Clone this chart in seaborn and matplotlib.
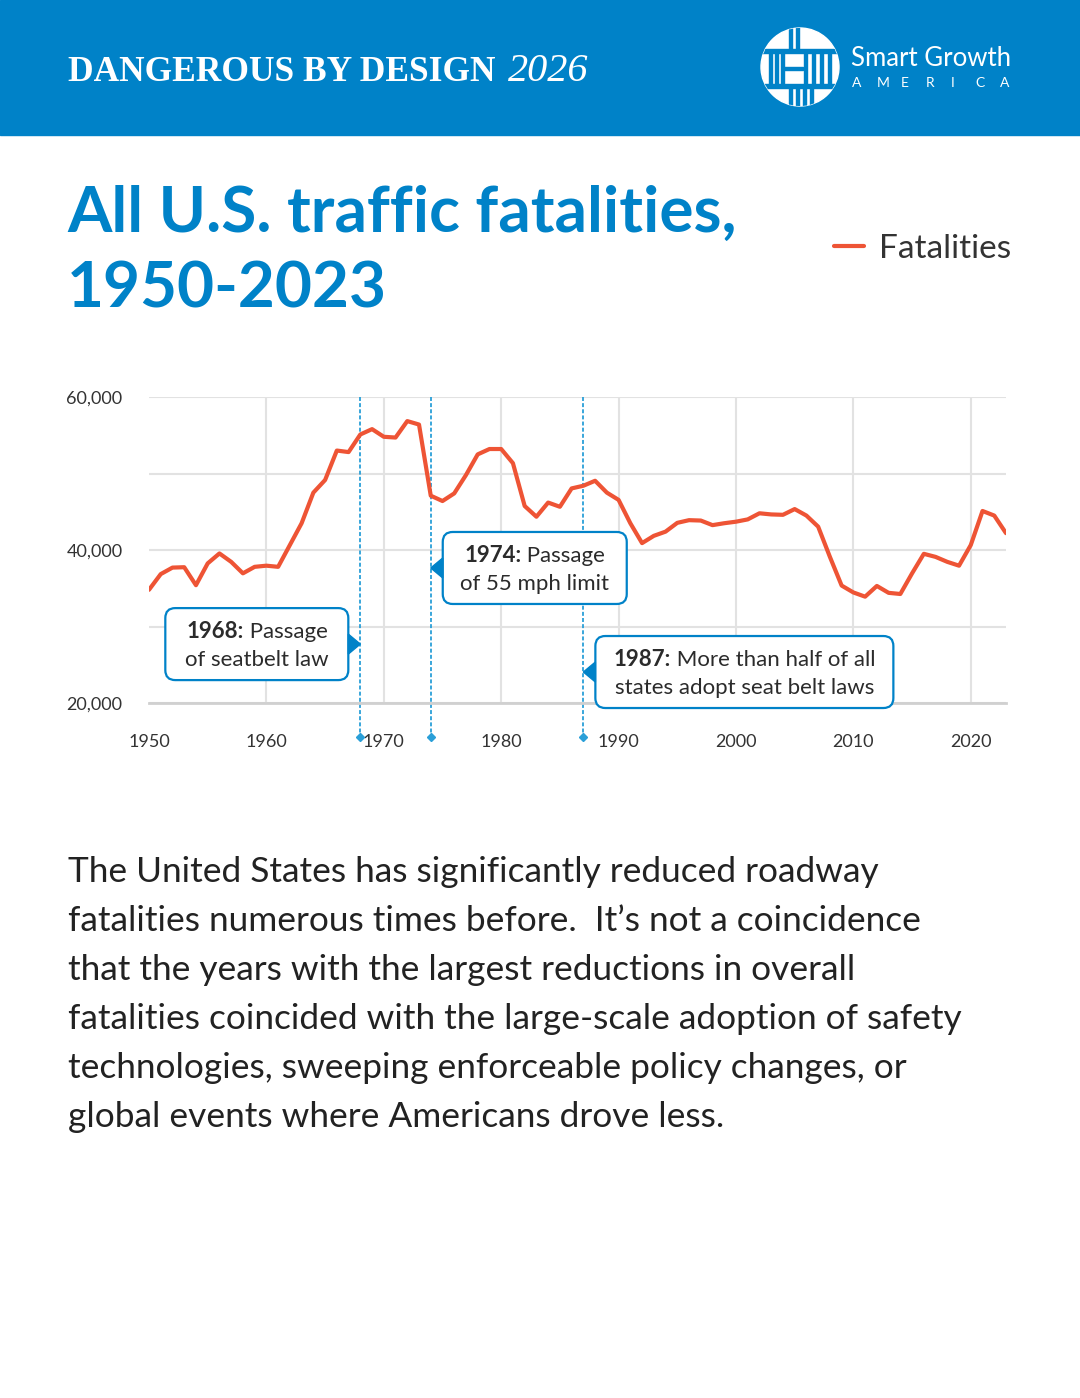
import matplotlib.pyplot as plt
import seaborn as sns
import pandas as pd
from matplotlib.patches import FancyBboxPatch, Rectangle, Circle, Polygon

# Data
years = list(range(1950, 2024))
fatalities = [
    34800, 36850, 37700, 37750, 35400, 38250, 39550, 38450, 36950, 37800,  # 1950s
    37950, 37800, 40650, 43500, 47500, 49150, 53000, 52800, 55100, 55800,  # 1960s
    54800, 54700, 56850, 56400, 47100, 46400, 47400, 49800, 52500, 53200,  # 1970s
    53200, 51350, 45750, 44350, 46200, 45650, 48050, 48400, 49050, 47500,  # 1980s
    46550, 43500, 40900, 41850, 42400, 43550, 43900, 43850, 43250, 43500,  # 1990s
    43700, 44000, 44800, 44650, 44600, 45350, 44500, 43050, 39100, 35350,  # 2000s
    34450, 33900, 35300, 34400, 34250, 36950, 39500, 39100, 38450, 37950,  # 2010s
    40650, 45100, 44500, 42200,                                            # 2020s
]

x_ticks = [1950, 1960, 1970, 1980, 1990, 2000, 2010, 2020]
x_tick_labels = [str(t) for t in x_ticks]
y_ticks = [20000, 30000, 40000, 50000, 60000]
y_tick_labels = ["20,000", "", "40,000", "", "60,000"]

# Event call-outs
event_years = [1968, 1974, 1987]
event_bold = ["1968:", "1974:", "1987:"]
event_line1 = [" Passage", " Passage", " More than half of all"]
event_line2 = ["of seatbelt law", "of 55 mph limit", "states adopt seat belt laws"]
event_anchor = [27700, 37650, 24050]   # value where the pointer touches the line
event_side = ["left", "right", "right"]
event_box_w = [183, 184, 298]

title_lines = ["All U.S. traffic fatalities,", "1950-2023"]
body_lines = [
    "The United States has significantly reduced roadway",
    "fatalities numerous times before.  It\u2019s not a coincidence",
    "that the years with the largest reductions in overall",
    "fatalities coincided with the large-scale adoption of safety",
    "technologies, sweeping enforceable policy changes, or",
    "global events where Americans drove less.",
]

W, H = 1080, 1398
BLUE = "#0082C8"
RED = "#EE5435"
DASH = "#2A9FD8"
TEXT = "#2b2b2b"

sns.set_theme(style="white")
plt.rcParams["font.family"] = ["Lato", "DejaVu Sans"]

fig = plt.figure(figsize=(W / 100, H / 100), dpi=100)
fig.patch.set_facecolor("white")

df = pd.DataFrame({"year": years, "fatalities": fatalities})

# Main chart
ax = fig.add_axes([149 / W, 1 - 703 / H, 857 / W, 306 / H])
sns.lineplot(data=df, x="year", y="fatalities", ax=ax, color=RED,
             linewidth=3, legend=False, zorder=3)
ax.set_xlim(1950, 2023)
ax.set_ylim(20000, 60000)
ax.set_xticks(x_ticks)
ax.set_xticklabels(x_tick_labels)
ax.set_yticks(y_ticks)
ax.set_yticklabels(y_tick_labels)
ax.set_xlabel("")
ax.set_ylabel("")
ax.grid(True, color="#e2e2e2", linewidth=1.5)
ax.get_xgridlines()[0].set_visible(False)
for s in ["top", "right", "left"]:
    ax.spines[s].set_visible(False)
ax.spines["bottom"].set_color("#d0d0d0")
ax.spines["bottom"].set_linewidth(2)
ax.tick_params(axis="both", length=0, labelsize=13, labelcolor="#333333")
ax.tick_params(axis="y", pad=19)
ax.tick_params(axis="x", pad=22)

ax.legend([ax.lines[0]], ["Fatalities"], loc="center right",
          bbox_to_anchor=(1011 / W, 1 - 249 / H), bbox_transform=fig.transFigure,
          frameon=False, fontsize=24, handlelength=0.9, handletextpad=0.45,
          borderpad=0, borderaxespad=0, labelcolor="#333333")

# dashed event markers, running below the axis
drop = 34 / 306
xt = ax.get_xaxis_transform()
for yr in event_years:
    ax.plot([yr, yr], [1, -drop], transform=xt, color=DASH, lw=1.3,
            ls=(0, (2.2, 1.2)), clip_on=False, zorder=2)
    ax.plot([yr], [-drop], transform=xt, marker="D", ms=4, color=DASH,
            clip_on=False, zorder=2)

# Overlay in pixel coords for header, titles, call-outs
ov = fig.add_axes([0, 0, 1, 1], zorder=5)
ov.set_xlim(0, W)
ov.set_ylim(H, 0)
ov.axis("off")
renderer = fig.canvas.get_renderer()

ov.add_patch(Rectangle((0, 0), W, 135, color=BLUE, zorder=0))
t1 = ov.text(68, 81, "DANGEROUS BY DESIGN", family="Liberation Serif",
             weight="bold", fontsize=25.5, color="white", va="baseline")
x_end = t1.get_window_extent(renderer).x1
ov.text(x_end + 12, 81, "2026", family="Liberation Serif", style="italic",
        fontsize=29, color="white", va="baseline")

# logo
logo = Circle((800, 67), 39, color="white", zorder=1)
ov.add_patch(logo)
logo_gaps = [
    (755, 49, 90, 3.5), (755, 84, 90, 3.5),
    (789, 25, 2.5, 24), (796, 25, 2.5, 24),
    (769, 52, 2.5, 32), (775, 52, 2.5, 32), (781, 52, 2.5, 32),
    (783, 67, 20, 2.5), (804, 52, 2.5, 32), (812, 52, 2.5, 32),
    (820, 52, 2.5, 32), (828, 52, 2.5, 32),
    (789, 87, 2.5, 22), (796, 87, 2.5, 22), (803, 87, 2.5, 22), (810, 87, 2.5, 22),
]
for (gx, gy, gw, gh) in logo_gaps:
    r = Rectangle((gx, gy), gw, gh, color=BLUE, zorder=2)
    ov.add_patch(r)
    r.set_clip_path(logo)
ov.text(851, 66, "Smart Growth", fontsize=18.5, color="white", va="baseline")
for i, ch in enumerate("AMERICA"):
    ov.text(852 + i * 24.6, 87, ch, fontsize=10, color="white", va="baseline")

# title
for i, line in enumerate(title_lines):
    ov.text(67, 232 + 76 * i, line, fontsize=46, weight="bold", color=BLUE,
            va="baseline")


def rich_line(x_center, y, parts, size):
    texts, widths = [], []
    for s, w in parts:
        t = ov.text(0, y, s, fontsize=size, weight=w, color=TEXT,
                    va="baseline", ha="left", zorder=6)
        texts.append(t)
        widths.append(t.get_window_extent(renderer).width)
    x = x_center - sum(widths) / 2
    for t, wd in zip(texts, widths):
        t.set_x(x)
        x += wd


for i, yr in enumerate(event_years):
    dx, dy = ax.transData.transform((yr, event_anchor[i]))
    tx, ty = dx, H - dy
    bw, bh, gap = event_box_w[i], 72, 12
    if event_side[i] == "left":
        x0 = tx - gap - bw
        edge = tx - gap
    else:
        x0 = tx + gap
        edge = tx + gap
    y0 = ty - bh / 2
    ov.add_patch(FancyBboxPatch((x0, y0), bw, bh,
                                boxstyle="round,pad=0,rounding_size=10",
                                fc="white", ec=BLUE, lw=1.6, zorder=3))
    ov.add_patch(Polygon([(edge, ty - 10), (edge, ty + 10), (tx, ty)],
                         closed=True, color=BLUE, zorder=4))
    cx = x0 + bw / 2
    rich_line(cx, ty - 6, [(event_bold[i], "bold"), (event_line1[i], "normal")], 16)
    rich_line(cx, ty + 22, [(event_line2[i], "normal")], 16)

# body text
for i, line in enumerate(body_lines):
    ov.text(68, 882 + 49 * i, line, fontsize=25.4, color="#222222", va="baseline")

fig.savefig("out.png", dpi=100)
